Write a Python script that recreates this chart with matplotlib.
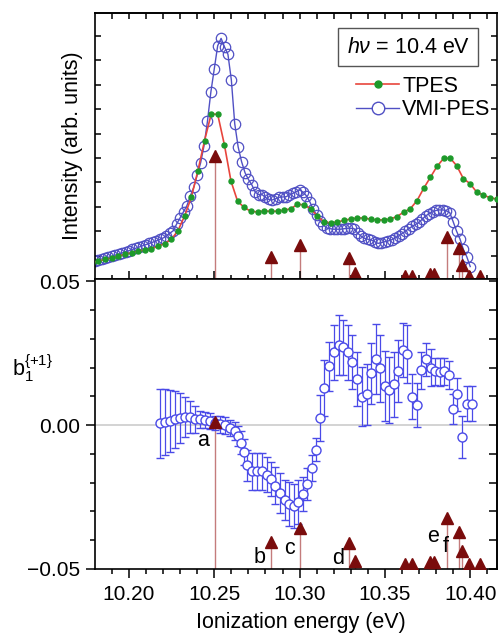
import matplotlib
matplotlib.use('Agg')
import matplotlib.pyplot as plt
from matplotlib.lines import Line2D
from matplotlib.ticker import MultipleLocator, FuncFormatter, NullFormatter

plt.rcParams['font.family'] = ['Liberation Sans', 'DejaVu Sans']
plt.rcParams['mathtext.fontset'] = 'custom'
plt.rcParams['mathtext.rm'] = 'Liberation Sans'
plt.rcParams['mathtext.it'] = 'Liberation Sans:italic'
plt.rcParams['mathtext.bf'] = 'Liberation Sans:bold'

# ---------------- data ----------------
tpes_energy = [10.1781, 10.1820, 10.1859, 10.1898, 10.1937, 10.1976, 10.2015, 10.2053,
               10.2092, 10.2131, 10.2170, 10.2209, 10.2248, 10.2287, 10.2326, 10.2365,
               10.2404, 10.2443, 10.2482, 10.2520, 10.2559, 10.2598, 10.2637, 10.2676,
               10.2715, 10.2754, 10.2793, 10.2832, 10.2871, 10.2910, 10.2949, 10.2987,
               10.3026, 10.3065, 10.3104, 10.3143, 10.3182, 10.3221, 10.3260, 10.3299,
               10.3338, 10.3377, 10.3416, 10.3454, 10.3493, 10.3532, 10.3571, 10.3610,
               10.3649, 10.3688, 10.3727, 10.3766, 10.3805, 10.3844, 10.3883, 10.3921,
               10.3960, 10.3999, 10.4038, 10.4077, 10.4116, 10.4155]
tpes_intensity = [0.71, 0.77, 0.84, 0.90, 0.98, 1.05, 1.12, 1.18,
                  1.23, 1.28, 1.38, 1.49, 1.66, 2.02, 2.62, 3.38,
                  4.47, 5.71, 6.80, 6.79, 5.55, 4.05, 3.22, 2.97,
                  2.81, 2.79, 2.83, 2.81, 2.82, 2.86, 2.92, 3.10,
                  3.08, 2.92, 2.62, 2.38, 2.34, 2.38, 2.44, 2.50,
                  2.54, 2.54, 2.49, 2.46, 2.46, 2.50, 2.60, 2.78,
                  2.92, 3.25, 3.75, 4.20, 4.65, 4.98, 4.99, 4.68,
                  4.15, 3.95, 3.60, 3.48, 3.37, 3.32]

vmi_energy = [10.178, 10.180, 10.182, 10.184, 10.186, 10.188, 10.190, 10.192, 10.194, 10.196,
              10.198, 10.200, 10.202, 10.204, 10.206, 10.208, 10.210, 10.212, 10.214, 10.216,
              10.218, 10.220, 10.222, 10.224, 10.226, 10.228, 10.230, 10.232, 10.234, 10.236,
              10.238, 10.240, 10.242, 10.244, 10.246, 10.248, 10.250, 10.252, 10.254, 10.256,
              10.258, 10.260, 10.262, 10.264, 10.266, 10.268, 10.270, 10.272, 10.274, 10.276,
              10.278, 10.280, 10.282, 10.284, 10.286, 10.288, 10.290, 10.292, 10.294, 10.296,
              10.298, 10.300, 10.302, 10.304, 10.306, 10.308, 10.310, 10.312, 10.314, 10.316,
              10.318, 10.320, 10.322, 10.324, 10.326, 10.328, 10.330, 10.332, 10.334, 10.336,
              10.338, 10.340, 10.342, 10.344, 10.346, 10.348, 10.350, 10.352, 10.354, 10.356,
              10.358, 10.360, 10.362, 10.364, 10.366, 10.368, 10.370, 10.372, 10.374, 10.376,
              10.378, 10.380, 10.382, 10.384, 10.386, 10.388, 10.390, 10.392, 10.394, 10.396,
              10.398, 10.400]
vmi_intensity = [0.74, 0.78, 0.82, 0.86, 0.89, 0.93, 0.97, 1.02, 1.06, 1.11,
                 1.16, 1.20, 1.25, 1.30, 1.35, 1.40, 1.45, 1.50, 1.55, 1.60,
                 1.66, 1.72, 1.80, 1.92, 2.02, 2.30, 2.55, 2.80, 3.05, 3.45,
                 3.80, 4.30, 4.80, 5.50, 6.50, 7.70, 8.65, 9.60, 9.90, 9.55,
                 9.25, 8.20, 6.40, 5.45, 4.85, 4.40, 4.12, 3.90, 3.60, 3.50,
                 3.50, 3.38, 3.30, 3.28, 3.33, 3.39, 3.40, 3.41, 3.48, 3.55,
                 3.62, 3.69, 3.60, 3.45, 3.20, 2.90, 2.65, 2.42, 2.25, 2.12,
                 2.10, 2.08, 2.08, 2.08, 2.10, 2.12, 2.12, 2.10, 1.92, 1.80,
                 1.71, 1.67, 1.64, 1.57, 1.50, 1.53, 1.57, 1.60, 1.65, 1.72,
                 1.80, 1.90, 2.00, 2.10, 2.20, 2.28, 2.36, 2.50, 2.63, 2.72,
                 2.79, 2.85, 2.87, 2.87, 2.84, 2.76, 2.39, 2.00, 1.68, 1.25,
                 0.95, 0.55]

stick_energy = [10.2504, 10.2832, 10.3002, 10.3291, 10.3324, 10.3617, 10.3657,
                10.3764, 10.3789, 10.3866, 10.3936, 10.3954, 10.3994, 10.4057]
stick_intensity = [5.10, 0.95, 1.43, 0.92, 0.27, 0.16, 0.16,
                   0.24, 0.24, 1.78, 1.30, 0.61, 0.16, 0.16]

beta_energy = [10.2182, 10.2211, 10.2240, 10.2270, 10.2299, 10.2328, 10.2357, 10.2387,
               10.2416, 10.2445, 10.2475, 10.2504, 10.2533, 10.2563, 10.2592, 10.2621,
               10.2639, 10.2656, 10.2674, 10.2692, 10.2721, 10.2750, 10.2779, 10.2809,
               10.2832, 10.2856, 10.2885, 10.2914, 10.2938, 10.2967, 10.2990, 10.3020,
               10.3043, 10.3072, 10.3096, 10.3119, 10.3143, 10.3172, 10.3201, 10.3231,
               10.3254, 10.3283, 10.3307, 10.3336, 10.3365, 10.3395, 10.3418, 10.3447,
               10.3471, 10.3500, 10.3523, 10.3553, 10.3576, 10.3606, 10.3629, 10.3658,
               10.3688, 10.3711, 10.3740, 10.3770, 10.3793, 10.3823, 10.3846, 10.3876,
               10.3899, 10.3922, 10.3952, 10.3981, 10.4010]
beta_value = [0.0006, 0.0010, 0.0014, 0.0020, 0.0026, 0.0029, 0.0029, 0.0020,
              0.0020, 0.0017, 0.0014, 0.0008, 0.0003, -0.0001, -0.0009, -0.0020,
              -0.0038, -0.0061, -0.0094, -0.0140, -0.0160, -0.0160, -0.0160, -0.0172,
              -0.0187, -0.0210, -0.0236, -0.0260, -0.0275, -0.0280, -0.0267, -0.0240,
              -0.0204, -0.0150, -0.0085, 0.0026, 0.0130, 0.0204, 0.0253, 0.0278,
              0.0270, 0.0253, 0.0220, 0.0160, 0.0099, 0.0107, 0.0180, 0.0229,
              0.0197, 0.0136, 0.0122, 0.0142, 0.0188, 0.0262, 0.0247, 0.0099,
              0.0070, 0.0191, 0.0229, 0.0200, 0.0188, 0.0185, 0.0188, 0.0174,
              0.0055, 0.0107, -0.0042, 0.0075, 0.0075]
beta_error = [0.0119, 0.0114, 0.0108, 0.0099, 0.0087, 0.0070, 0.0055, 0.0047,
              0.0030, 0.0028, 0.0028, 0.0025, 0.0030, 0.0030, 0.0028, 0.0030,
              0.0035, 0.0040, 0.0045, 0.0055, 0.0064, 0.0064, 0.0064, 0.0060,
              0.0060, 0.0065, 0.0070, 0.0070, 0.0076, 0.0076, 0.0076, 0.0060,
              0.0055, 0.0045, 0.0040, 0.0080, 0.0098, 0.0085, 0.0095, 0.0105,
              0.0095, 0.0095, 0.0095, 0.0093, 0.0102, 0.0105, 0.0105, 0.0122,
              0.0118, 0.0122, 0.0116, 0.0113, 0.0108, 0.0093, 0.0102, 0.0078,
              0.0076, 0.0064, 0.0058, 0.0064, 0.0047, 0.0050, 0.0047, 0.0050,
              0.0052, 0.0058, 0.0073, 0.0061, 0.0061]

peak_labels = ['a', 'b', 'c', 'd', 'e', 'f']
peak_label_energy = [10.2434, 10.2768, 10.2939, 10.3227, 10.3783, 10.3858]
peak_label_value = [-0.0053, -0.0459, -0.0428, -0.0463, -0.0387, -0.0422]

# ---------------- style ----------------
RED = '#e8453c'
GREEN = '#1d9a2a'
BLUE = '#5050c4'
EBLUE = '#4a4ae8'
STICK = '#c47c7c'
TRI = '#7a0c0c'

W, H = 499, 636
fig = plt.figure(figsize=(W / 100, H / 100), dpi=100)
left = 95 / W
width = 402 / W
ax_top = fig.add_axes([left, 1 - 279 / H, width, 266 / H])
ax_bot = fig.add_axes([left, 1 - 569 / H, width, 290 / H])

xlim = (10.1801, 10.4157)

# ---------------- top panel ----------------
ax_top.vlines(stick_energy, 0, stick_intensity, color=STICK, lw=1.0, zorder=1)
ax_top.plot(vmi_energy, vmi_intensity, color=BLUE, lw=1.0, marker='o', ms=7.5,
            mfc='none', mec=BLUE, mew=0.9, zorder=2)
ax_top.plot(tpes_energy, tpes_intensity, color=RED, lw=1.2, marker='o', ms=3.6,
            mfc=GREEN, mec=GREEN, zorder=3)
ax_top.plot(stick_energy, stick_intensity, linestyle='none', marker='^', ms=8,
            color=TRI, zorder=4)

ax_top.set_xlim(*xlim)
ax_top.set_ylim(0.04, 10.94)
ax_top.xaxis.set_major_locator(MultipleLocator(0.05))
ax_top.xaxis.set_minor_locator(MultipleLocator(0.01))
ax_top.yaxis.set_major_locator(MultipleLocator(1))
ax_top.tick_params(axis='x', which='major', direction='inout', length=12, width=1.1,
                   bottom=True, top=False, labelbottom=False)
ax_top.tick_params(axis='x', which='minor', direction='inout', length=6, width=1.1,
                   bottom=True, top=False)
ax_top.tick_params(axis='y', which='major', direction='in', length=4, width=1.1,
                   left=True, right=True, labelleft=False)
sec_top = ax_top.secondary_xaxis('top')
sec_top.xaxis.set_major_locator(MultipleLocator(0.05))
sec_top.xaxis.set_minor_locator(MultipleLocator(0.01))
sec_top.tick_params(axis='x', which='both', direction='in', length=4, width=1.1,
                    labeltop=False)
for s in ax_top.spines.values():
    s.set_linewidth(1.2)
sec_top.spines['top'].set_linewidth(1.2)

ax_top.set_ylabel('Intensity (arb. units)', fontsize=15.5)
ax_top.yaxis.set_label_coords(-0.030, 0.5)

ax_top.text(0.779, 0.872, r'$h\nu$ = 10.4 eV', transform=ax_top.transAxes,
            ha='center', va='center', fontsize=15.5, zorder=6,
            bbox=dict(boxstyle='square,pad=0.38', fc='white', ec='#555555', lw=1.0))

handles = [Line2D([], [], color=RED, lw=1.2, marker='o', ms=5, mfc=GREEN, mec=GREEN),
           Line2D([], [], color=BLUE, lw=1.0, marker='o', ms=9, mfc='white', mec=BLUE)]
ax_top.legend(handles, ['TPES', 'VMI-PES'], loc='upper right',
              bbox_to_anchor=(0.995, 0.78), frameon=False, fontsize=15.5,
              handlelength=2.0, handletextpad=0.15, labelspacing=0.12,
              borderpad=0.2, borderaxespad=0.0, numpoints=1)

# ---------------- bottom panel ----------------
ax_bot.axhline(0, color='#cccccc', lw=1.2, zorder=0)
stick_top_bot = [-0.05 + 0.01 * v for v in stick_intensity]
ax_bot.vlines(stick_energy, -0.05, stick_top_bot, color=STICK, lw=1.0, zorder=1)
ax_bot.errorbar(beta_energy, beta_value, yerr=beta_error, fmt='o', ms=6.5,
                mfc='white', mec=EBLUE, mew=1.0, ecolor=EBLUE, elinewidth=0.9,
                capsize=3.2, capthick=0.9, zorder=3)
ax_bot.plot(stick_energy, stick_top_bot, linestyle='none', marker='^', ms=8,
            color=TRI, zorder=4)
for lab, ex, ey in zip(peak_labels, peak_label_energy, peak_label_value):
    ax_bot.text(ex, ey, lab, fontsize=15.5, ha='center', va='center', zorder=5)

ax_bot.set_xlim(*xlim)
ax_bot.set_ylim(-0.05, 0.0508)
ax_bot.xaxis.set_major_locator(MultipleLocator(0.05))
ax_bot.xaxis.set_minor_locator(MultipleLocator(0.01))
ax_bot.xaxis.set_major_formatter(FuncFormatter(lambda v, p: f'{v:.2f}'))
ax_bot.yaxis.set_major_locator(MultipleLocator(0.05))
ax_bot.yaxis.set_minor_locator(MultipleLocator(0.01))


def yfmt(v, p):
    if abs(v) < 1e-9:
        v = 0.0
    return f'{v:.2f}'.replace('-', '\u2212')


ax_bot.yaxis.set_major_formatter(FuncFormatter(yfmt))
ax_bot.tick_params(axis='x', which='major', direction='out', length=6.5, width=1.1,
                   top=False, labelsize=15, pad=5)
ax_bot.tick_params(axis='x', which='minor', direction='out', length=3.5, width=1.1,
                   top=False)
ax_bot.tick_params(axis='y', which='major', direction='out', length=6.5, width=1.1,
                   right=False, labelsize=15, pad=4)
ax_bot.tick_params(axis='y', which='minor', direction='out', length=3.5, width=1.1,
                   right=False)
sec_bot = ax_bot.secondary_yaxis('right')
sec_bot.yaxis.set_major_locator(MultipleLocator(0.01))
sec_bot.yaxis.set_minor_formatter(NullFormatter())
sec_bot.tick_params(axis='y', which='both', direction='in', length=5.5, width=1.1,
                    labelright=False)
for s in ax_bot.spines.values():
    s.set_linewidth(1.2)
sec_bot.spines['right'].set_linewidth(1.2)

ax_bot.set_xlabel('Ionization energy (eV)', fontsize=15.5)
ax_bot.xaxis.set_label_coords(0.512, -0.148)

fig.text(33 / W, 1 - 368 / H, r'b$_1^{\{+1\}}$', fontsize=15.5, ha='center', va='center')

fig.savefig('out.png', dpi=100)
